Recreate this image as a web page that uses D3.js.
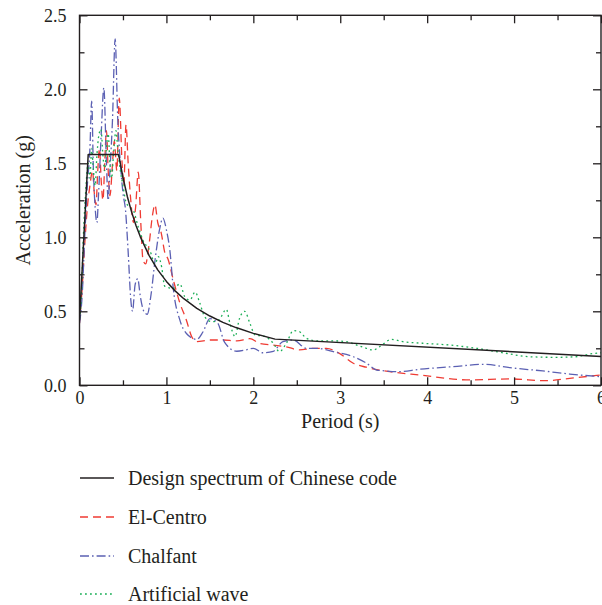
<!DOCTYPE html>
<html>
<head>
<meta charset="utf-8">
<script src="https://cdn.jsdelivr.net/npm/d3@7/dist/d3.min.js"></script>
<style>
  html, body { margin: 0; padding: 0; background: #fff; }
  svg { display: block; }
  text { font-family: "Liberation Serif", "Times New Roman", serif; fill: #231f20; }
</style>
</head>
<body>
<svg id="chart" width="602" height="605"></svg>
<script>
// Periods (s) and spectral accelerations (g)
const designPeriod = [0, 0.1, 0.45, 0.5, 0.55, 0.6, 0.65, 0.7, 0.8, 0.9, 1.0, 1.1, 1.2, 1.35, 1.5, 1.65, 1.8, 2.0, 2.25, 6.0];
const designAccel  = [0.44, 1.56, 1.56, 1.404, 1.276, 1.17, 1.08, 1.003, 0.878, 0.78, 0.702, 0.638, 0.585, 0.52, 0.468, 0.425, 0.39, 0.351, 0.312, 0.195];

const elCentroPeriod = [0, 0.03, 0.06, 0.09, 0.12, 0.15, 0.17, 0.19, 0.21, 0.23, 0.25, 0.27, 0.29, 0.31, 0.33, 0.35, 0.38, 0.40, 0.43, 0.457, 0.49, 0.51, 0.535, 0.56, 0.59, 0.62, 0.645, 0.676, 0.705, 0.73, 0.76, 0.80, 0.84, 0.868, 0.90, 0.94, 0.98, 1.02, 1.08, 1.155, 1.23, 1.29, 1.35, 1.5, 1.65, 1.81, 1.96, 2.07, 2.23, 2.38, 2.53, 2.69, 2.84, 2.99, 3.15, 3.30, 3.45, 3.57, 3.91, 4.49, 4.95, 5.37, 5.64, 6.0];
const elCentroAccel  = [0.42, 0.65, 0.95, 1.2, 1.35, 1.45, 1.3, 1.22, 1.45, 1.6, 1.38, 1.25, 1.5, 1.72, 1.45, 1.28, 1.5, 1.65, 1.45, 1.94, 1.5, 1.35, 1.76, 1.5, 1.25, 1.1, 1.2, 1.44, 1.1, 0.85, 0.82, 0.95, 1.15, 1.22, 1.1, 1.03, 0.9, 0.85, 0.71, 0.556, 0.44, 0.33, 0.295, 0.306, 0.306, 0.30, 0.315, 0.284, 0.272, 0.26, 0.239, 0.25, 0.25, 0.216, 0.149, 0.122, 0.103, 0.092, 0.07, 0.036, 0.043, 0.031, 0.047, 0.07];

const chalfantPeriod = [0, 0.03, 0.06, 0.09, 0.12, 0.14, 0.16, 0.18, 0.20, 0.22, 0.25, 0.28, 0.31, 0.33, 0.35, 0.38, 0.41, 0.44, 0.47, 0.50, 0.53, 0.56, 0.59, 0.61, 0.64, 0.67, 0.70, 0.74, 0.78, 0.82, 0.87, 0.92, 0.96, 1.0, 1.04, 1.08, 1.155, 1.23, 1.35, 1.42, 1.5, 1.59, 1.67, 1.81, 1.92, 2.0, 2.11, 2.23, 2.34, 2.46, 2.61, 2.73, 2.92, 3.15, 3.30, 3.42, 3.49, 3.68, 3.91, 4.30, 4.66, 4.95, 5.33, 5.64, 6.0];
const chalfantAccel  = [0.42, 0.6, 1.0, 1.35, 1.6, 1.92, 1.45, 1.2, 1.1, 1.3, 1.7, 2.01, 1.5, 1.25, 1.45, 1.8, 2.34, 1.8, 1.5, 1.3, 1.18, 0.9, 0.58, 0.5, 0.68, 0.72, 0.6, 0.5, 0.48, 0.6, 0.85, 1.05, 1.13, 1.05, 0.91, 0.65, 0.44, 0.35, 0.31, 0.36, 0.45, 0.42, 0.29, 0.23, 0.24, 0.25, 0.22, 0.23, 0.295, 0.306, 0.25, 0.25, 0.227, 0.193, 0.15, 0.103, 0.099, 0.092, 0.108, 0.126, 0.142, 0.119, 0.097, 0.076, 0.058];

const artificialPeriod = [0, 0.02, 0.044, 0.07, 0.10, 0.12, 0.14, 0.16, 0.18, 0.20, 0.22, 0.247, 0.27, 0.29, 0.31, 0.33, 0.35, 0.37, 0.39, 0.42, 0.44, 0.47, 0.50, 0.534, 0.58, 0.62, 0.676, 0.73, 0.81, 0.87, 0.906, 0.945, 0.98, 1.08, 1.155, 1.21, 1.27, 1.33, 1.385, 1.44, 1.52, 1.60, 1.69, 1.73, 1.79, 1.84, 1.90, 1.96, 2.02, 2.13, 2.23, 2.30, 2.38, 2.46, 2.53, 2.61, 2.73, 2.92, 3.07, 3.19, 3.30, 3.38, 3.45, 3.59, 3.72, 3.95, 4.26, 4.57, 4.87, 5.18, 5.49, 5.71, 5.87, 6.0];
const artificialAccel  = [0.45, 0.58, 1.0, 1.3, 1.5, 1.4, 1.6, 1.45, 1.35, 1.55, 1.68, 1.73, 1.55, 1.45, 1.6, 1.7, 1.5, 1.4, 1.55, 1.72, 1.6, 1.45, 1.35, 1.24, 1.2, 1.18, 1.07, 0.98, 0.91, 0.82, 0.87, 0.80, 0.67, 0.655, 0.685, 0.6, 0.576, 0.63, 0.554, 0.463, 0.43, 0.44, 0.513, 0.42, 0.33, 0.45, 0.5, 0.42, 0.34, 0.33, 0.284, 0.227, 0.284, 0.369, 0.362, 0.318, 0.30, 0.30, 0.295, 0.272, 0.25, 0.238, 0.26, 0.31, 0.295, 0.284, 0.272, 0.25, 0.22, 0.193, 0.189, 0.193, 0.211, 0.22];

const xMajorTicks = [0, 1, 2, 3, 4, 5, 6];
const xMinorTicks = [0.5, 1.5, 2.5, 3.5, 4.5, 5.5];
const yMajorTicks = [0, 0.5, 1.0, 1.5, 2.0, 2.5];
const yMinorTicks = [0.25, 0.75, 1.25, 1.75, 2.25];

const seriesNames = ["Design spectrum of Chinese code", "El-Centro", "Chalfant", "Artificial wave"];
const seriesColors = ["#231f20", "#ef3b33", "#5b60b3", "#1aae55"];
const seriesDashes = [null, "8,5", "9,3,1.6,3", "1.8,3.2"];

const series = [
  { period: designPeriod, accel: designAccel, curve: d3.curveLinear },
  { period: elCentroPeriod, accel: elCentroAccel, curve: d3.curveMonotoneX },
  { period: chalfantPeriod, accel: chalfantAccel, curve: d3.curveMonotoneX },
  { period: artificialPeriod, accel: artificialAccel, curve: d3.curveMonotoneX }
].map((s, i) => ({ ...s, name: seriesNames[i], color: seriesColors[i], dash: seriesDashes[i] }));

const svg = d3.select("#chart");
const plotLeft = 79.5, plotRight = 601, plotTop = 15.3, plotBottom = 385.3;

const x = d3.scaleLinear().domain([0, 6]).range([plotLeft, plotRight]);
const y = d3.scaleLinear().domain([0, 2.5]).range([plotBottom, plotTop]);

const axisColor = "#231f20";

// plotted spectra, clipped to the frame
svg.append("clipPath").attr("id", "plotClip")
  .append("rect").attr("x", plotLeft).attr("y", plotTop)
  .attr("width", plotRight - plotLeft).attr("height", plotBottom - plotTop);

const plot = svg.append("g").attr("clip-path", "url(#plotClip)");
// draw the design spectrum last so it sits on top
const drawOrder = [1, 2, 3, 0];
drawOrder.forEach(i => {
  const s = series[i];
  const pts = s.period.map((p, k) => [p, s.accel[k]]);
  const line = d3.line().x(d => x(d[0])).y(d => y(d[1])).curve(s.curve);
  plot.append("path")
    .attr("d", line(pts))
    .attr("fill", "none")
    .attr("stroke", s.color)
    .attr("stroke-width", i === 0 ? 1.5 : 1.3)
    .attr("stroke-dasharray", s.dash)
    .attr("stroke-linejoin", "round");
});

// axes with inward ticks on all four sides
function styleAxis(g) {
  g.select(".domain").remove();
  g.selectAll(".tick line").attr("stroke", axisColor).attr("stroke-width", 1.3);
  g.selectAll(".tick text").attr("fill", axisColor).style("font-size", "18px")
    .style("font-family", '"Liberation Serif", "Times New Roman", serif');
}

svg.append("g").attr("transform", `translate(0,${plotBottom})`)
  .call(d3.axisBottom(x).tickValues(xMajorTicks).tickSize(-8).tickPadding(6).tickFormat(d3.format("d")))
  .call(styleAxis);
svg.append("g").attr("transform", `translate(0,${plotBottom})`)
  .call(d3.axisBottom(x).tickValues(xMinorTicks).tickSize(-5).tickFormat(""))
  .call(styleAxis);
svg.append("g").attr("transform", `translate(0,${plotTop})`)
  .call(d3.axisTop(x).tickValues(xMajorTicks).tickSize(-8).tickFormat(""))
  .call(styleAxis);
svg.append("g").attr("transform", `translate(0,${plotTop})`)
  .call(d3.axisTop(x).tickValues(xMinorTicks).tickSize(-5).tickFormat(""))
  .call(styleAxis);

svg.append("g").attr("transform", `translate(${plotLeft},0)`)
  .call(d3.axisLeft(y).tickValues(yMajorTicks).tickSize(-8).tickPadding(13).tickFormat(d3.format(".1f")))
  .call(styleAxis);
svg.append("g").attr("transform", `translate(${plotLeft},0)`)
  .call(d3.axisLeft(y).tickValues(yMinorTicks).tickSize(-5).tickFormat(""))
  .call(styleAxis);
svg.append("g").attr("transform", `translate(${plotRight},0)`)
  .call(d3.axisRight(y).tickValues(yMajorTicks).tickSize(-8).tickFormat(""))
  .call(styleAxis);
svg.append("g").attr("transform", `translate(${plotRight},0)`)
  .call(d3.axisRight(y).tickValues(yMinorTicks).tickSize(-5).tickFormat(""))
  .call(styleAxis);

// frame
svg.append("rect")
  .attr("x", plotLeft).attr("y", plotTop)
  .attr("width", plotRight - plotLeft).attr("height", plotBottom - plotTop)
  .attr("fill", "none").attr("stroke", axisColor).attr("stroke-width", 1.4);

// axis titles
svg.append("text")
  .attr("x", (plotLeft + plotRight) / 2).attr("y", 428)
  .attr("text-anchor", "middle")
  .style("font-size", "20px")
  .text("Period (s)");

svg.append("text")
  .attr("transform", `translate(30,${(plotTop + plotBottom) / 2}) rotate(-90)`)
  .attr("text-anchor", "middle")
  .style("font-size", "20px")
  .text("Acceleration (g)");

// legend
const legendRows = [478, 517, 556, 594];
const legend = svg.append("g");
series.forEach((s, i) => {
  const row = legend.append("g").attr("transform", `translate(0,${legendRows[i]})`);
  row.append("line")
    .attr("x1", 80).attr("x2", 114).attr("y1", 0).attr("y2", 0)
    .attr("stroke", s.color).attr("stroke-width", 1.4)
    .attr("stroke-dasharray", s.dash);
  row.append("text")
    .attr("x", 128).attr("y", 0).attr("dy", "0.33em")
    .style("font-size", "20px")
    .text(s.name);
});
</script>
</body>
</html>
